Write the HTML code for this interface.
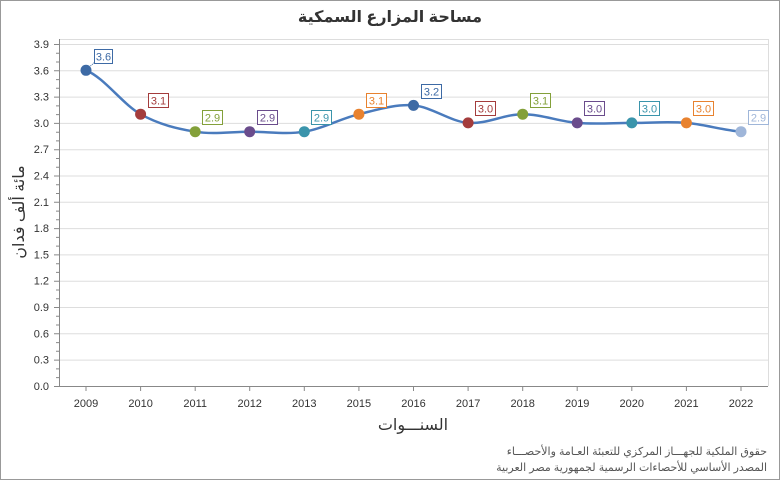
<!DOCTYPE html>
<html><head><meta charset="utf-8"><style>
html,body{margin:0;padding:0;background:#fff}
svg{display:block;font-family:"Liberation Sans","DejaVu Sans",sans-serif}
</style></head><body>
<svg width="780" height="480" viewBox="0 0 780 480" xmlns="http://www.w3.org/2000/svg">
<rect x="0.5" y="0.5" width="779" height="479" fill="#fff" stroke="#999"/>
<text x="390" y="22" text-anchor="middle" font-size="16" font-weight="bold" fill="#333" font-family="'Liberation Sans','DejaVu Sans',sans-serif">مساحة المزارع السمكية</text>
<!-- grid -->
<g stroke="#ddd" stroke-width="1">
<line x1="59" y1="39.5" x2="768" y2="39.5"/>
<line x1="768.5" y1="39" x2="768.5" y2="386"/>
<line x1="59" y1="44.5" x2="768" y2="44.5"/>
<line x1="59" y1="70.8" x2="768" y2="70.8"/>
<line x1="59" y1="97.1" x2="768" y2="97.1"/>
<line x1="59" y1="123.4" x2="768" y2="123.4"/>
<line x1="59" y1="149.7" x2="768" y2="149.7"/>
<line x1="59" y1="176" x2="768" y2="176"/>
<line x1="59" y1="202.3" x2="768" y2="202.3"/>
<line x1="59" y1="228.6" x2="768" y2="228.6"/>
<line x1="59" y1="254.9" x2="768" y2="254.9"/>
<line x1="59" y1="281.2" x2="768" y2="281.2"/>
<line x1="59" y1="307.5" x2="768" y2="307.5"/>
<line x1="59" y1="333.8" x2="768" y2="333.8"/>
<line x1="59" y1="360.1" x2="768" y2="360.1"/>
</g>
<g stroke="#888" stroke-width="1">
<line x1="59.5" y1="39" x2="59.5" y2="387"/>
<line x1="59" y1="386.5" x2="768" y2="386.5"/>
</g>
<!-- y ticks -->
<g stroke="#888">
<path d="M54 44.5h5M54 70.8h5M54 97.1h5M54 123.4h5M54 149.7h5M54 176h5M54 202.3h5M54 228.6h5M54 254.9h5M54 281.2h5M54 307.5h5M54 333.8h5M54 360.1h5M54 386.5h5"/>
<path d="M56 53.3h3M56 62h3M56 79.6h3M56 88.3h3M56 105.9h3M56 114.6h3M56 132.2h3M56 140.9h3M56 158.5h3M56 167.2h3M56 184.8h3M56 193.5h3M56 211.1h3M56 219.8h3M56 237.4h3M56 246.1h3M56 263.7h3M56 272.4h3M56 290h3M56 298.7h3M56 316.3h3M56 325h3M56 342.6h3M56 351.3h3M56 368.9h3M56 377.6h3"/>
<path d="M86 386v5M140.6 386v5M195.2 386v5M249.7 386v5M304.3 386v5M358.9 386v5M413.5 386v5M468.1 386v5M522.7 386v5M577.2 386v5M631.8 386v5M686.4 386v5M741 386v5"/>
</g>
<g font-size="11" fill="#333" text-anchor="end">
<text x="49" y="48">3.9</text><text x="49" y="74.3">3.6</text><text x="49" y="100.6">3.3</text><text x="49" y="126.9">3.0</text><text x="49" y="153.2">2.7</text><text x="49" y="179.5">2.4</text><text x="49" y="205.8">2.1</text><text x="49" y="232.1">1.8</text><text x="49" y="258.4">1.5</text><text x="49" y="284.7">1.2</text><text x="49" y="311">0.9</text><text x="49" y="337.3">0.6</text><text x="49" y="363.6">0.3</text><text x="49" y="390">0.0</text>
</g>
<g font-size="11" fill="#333" text-anchor="middle">
<text x="86" y="407">2009</text><text x="140.6" y="407">2010</text><text x="195.2" y="407">2011</text><text x="249.7" y="407">2012</text><text x="304.3" y="407">2013</text><text x="358.9" y="407">2015</text><text x="413.5" y="407">2016</text><text x="468.1" y="407">2017</text><text x="522.7" y="407">2018</text><text x="577.2" y="407">2019</text><text x="631.8" y="407">2020</text><text x="686.4" y="407">2021</text><text x="741" y="407">2022</text>
</g>
<text x="413" y="430" text-anchor="middle" font-size="16" fill="#333">السنـــوات</text>
<text transform="translate(24,212) rotate(-90)" text-anchor="middle" font-size="16" fill="#333">مائة ألف فدان</text>
<text x="767" y="455" text-anchor="end" font-size="11" fill="#555">حقوق الملكية للجهـــاز المركزي للتعبئة العـامة والأحصـــاء</text>
<text x="767" y="471" text-anchor="end" font-size="11" fill="#555">المصدر الأساسي للأحصاءات الرسمية لجمهورية مصر العربية</text>
<!-- line -->
<path fill="none" stroke="#4a7bbd" stroke-width="2.5" d="M86 70.3 C104.2 77.6 122.4 104 140.6 114.2 C158.8 124.4 177 128.8 195.2 131.7 C213.4 134.6 231.5 131.7 249.7 131.7 C267.9 131.7 286.1 134.6 304.3 131.7 C322.5 128.8 340.7 118.6 358.9 114.2 C377.1 109.8 395.3 103.9 413.5 105.4 C431.7 106.9 449.9 121.4 468.1 122.9 C486.3 124.4 504.5 114.2 522.7 114.2 C540.9 114.2 559 121.4 577.2 122.9 C595.4 124.4 613.6 122.9 631.8 122.9 C650 122.9 668.2 121.4 686.4 122.9 C704.6 124.4 722.8 130.2 741 131.7"/>
<!-- leader lines -->
<g stroke-width="1" stroke-dasharray="1,1">
<line x1="86" y1="70" x2="95" y2="62" stroke="#3d6aa5"/>
</g>
<g font-size="11" text-anchor="middle">
<g><circle cx="86" cy="70.3" r="5.5" fill="#3d6aa5"/><rect x="94.5" y="49.5" width="18" height="14" fill="#fff" stroke="#3d6aa5"/><text x="103.5" y="60.5" fill="#3d6aa5">3.6</text></g>
<g><circle cx="140.6" cy="114.2" r="5.5" fill="#a43c3c"/><rect x="148.5" y="93.5" width="20" height="14" fill="#fff" stroke="#a43c3c"/><text x="158.5" y="104.5" fill="#a43c3c">3.1</text></g>
<g><circle cx="195.2" cy="131.7" r="5.5" fill="#83a03a"/><rect x="202.5" y="110.5" width="20" height="14" fill="#fff" stroke="#83a03a"/><text x="212.5" y="121.5" fill="#83a03a">2.9</text></g>
<g><circle cx="249.7" cy="131.7" r="5.5" fill="#6a4c8c"/><rect x="257.5" y="110.5" width="20" height="14" fill="#fff" stroke="#6a4c8c"/><text x="267.5" y="121.5" fill="#6a4c8c">2.9</text></g>
<g><circle cx="304.3" cy="131.7" r="5.5" fill="#3a94ab"/><rect x="311.5" y="110.5" width="20" height="14" fill="#fff" stroke="#3a94ab"/><text x="321.5" y="121.5" fill="#3a94ab">2.9</text></g>
<g><circle cx="358.9" cy="114.2" r="5.5" fill="#e8822f"/><rect x="366.5" y="93.5" width="20" height="14" fill="#fff" stroke="#e8822f"/><text x="376.5" y="104.5" fill="#e8822f">3.1</text></g>
<g><circle cx="413.5" cy="105.4" r="5.5" fill="#3d6aa5"/><rect x="421.5" y="84.5" width="20" height="14" fill="#fff" stroke="#3d6aa5"/><text x="431.5" y="95.5" fill="#3d6aa5">3.2</text></g>
<g><circle cx="468.1" cy="122.9" r="5.5" fill="#a43c3c"/><rect x="475.5" y="101.5" width="20" height="14" fill="#fff" stroke="#a43c3c"/><text x="485.5" y="112.5" fill="#a43c3c">3.0</text></g>
<g><circle cx="522.7" cy="114.2" r="5.5" fill="#83a03a"/><rect x="530.5" y="93.5" width="20" height="14" fill="#fff" stroke="#83a03a"/><text x="540.5" y="104.5" fill="#83a03a">3.1</text></g>
<g><circle cx="577.2" cy="122.9" r="5.5" fill="#6a4c8c"/><rect x="584.5" y="101.5" width="20" height="14" fill="#fff" stroke="#6a4c8c"/><text x="594.5" y="112.5" fill="#6a4c8c">3.0</text></g>
<g><circle cx="631.8" cy="122.9" r="5.5" fill="#3a94ab"/><rect x="639.5" y="101.5" width="20" height="14" fill="#fff" stroke="#3a94ab"/><text x="649.5" y="112.5" fill="#3a94ab">3.0</text></g>
<g><circle cx="686.4" cy="122.9" r="5.5" fill="#e8822f"/><rect x="693.5" y="101.5" width="20" height="14" fill="#fff" stroke="#e8822f"/><text x="703.5" y="112.5" fill="#e8822f">3.0</text></g>
<g><circle cx="741" cy="131.7" r="5.5" fill="#9fb6d9"/><rect x="748.5" y="110.5" width="20" height="14" fill="#fff" stroke="#9fb6d9"/><text x="758.5" y="121.5" fill="#9fb6d9">2.9</text></g>
</g>
</svg>
</body></html>
